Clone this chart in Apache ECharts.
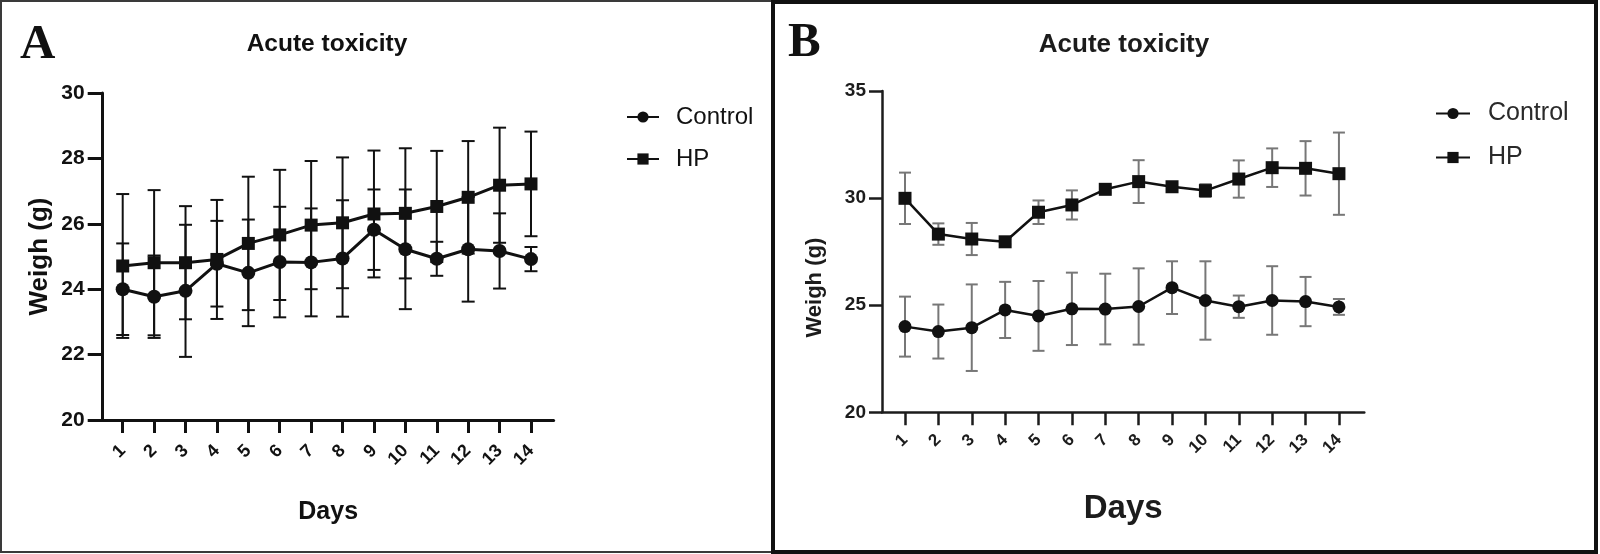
<!DOCTYPE html>
<html lang="en">
<head>
    <meta charset="UTF-8">
    <title>Acute toxicity</title>
    <script src="https://cdn.jsdelivr.net/npm/echarts@6/dist/echarts.min.js"></script>
</head>
<body style="margin: 0; background: #fff">
<div id="chart" style="width: 1600px; height: 554px"></div>

<script>
    // days of observation
    let days = [1, 2, 3, 4, 5, 6, 7, 8, 9, 10, 11, 12, 13, 14];

    // control group, same in both panels (mean, SD)
    let ctrlMean = [24.0, 23.77, 23.95, 24.78, 24.5, 24.83, 24.82, 24.94, 25.82, 25.22, 24.93, 25.22, 25.17, 24.92];
    let ctrlSd = [1.40, 1.26, 2.02, 1.31, 1.63, 1.69, 1.65, 1.78, 1.23, 1.83, 0.52, 1.60, 1.15, 0.37];

    // HP group, panel A
    let hpMeanA = [24.71, 24.81, 24.81, 24.91, 25.40, 25.66, 25.96, 26.03, 26.30, 26.32, 26.53, 26.81, 27.18, 27.22];
    let hpSdA = [2.20, 2.22, 1.73, 1.82, 2.04, 1.99, 1.96, 2.0, 1.94, 1.99, 1.70, 1.72, 1.76, 1.60];

    // HP group, panel B
    let hpMeanB = [29.99, 28.32, 28.09, 27.96, 29.34, 29.68, 30.41, 30.77, 30.53, 30.35, 30.89, 31.42, 31.39, 31.14];
    let hpSdB = [1.20, 0.50, 0.75, 0.12, 0.55, 0.68, 0.15, 1.0, 0.15, 0.30, 0.87, 0.90, 1.27, 1.92];

    // y ticks: min, max, step
    let yTicksA = [20, 30, 2];
    let yTicksB = [20, 35, 5];

    let font = '"Liberation Sans", Arial, sans-serif';

    function pts(mean) {
        return days.map(function (d, i) { return [d, mean[i]]; });
    }
    function bars(mean, sd) {
        return days.map(function (d, i) { return [d, mean[i] - sd[i], mean[i] + sd[i]]; });
    }
    function errRender(capW, color, width) {
        return function (params, api) {
            let x = api.value(0);
            let p1 = api.coord([x, api.value(1)]);
            let p2 = api.coord([x, api.value(2)]);
            let h = capW / 2;
            let st = {stroke: color, lineWidth: width};
            return {
                type: 'group',
                children: [
                    {type: 'line', shape: {x1: p1[0], y1: p1[1], x2: p2[0], y2: p2[1]}, style: st},
                    {type: 'line', shape: {x1: p1[0] - h, y1: p1[1], x2: p1[0] + h, y2: p1[1]}, style: st},
                    {type: 'line', shape: {x1: p2[0] - h, y1: p2[1], x2: p2[0] + h, y2: p2[1]}, style: st}
                ]
            };
        };
    }

    let chart = echarts.init(document.getElementById('chart'));

    let option = {
        backgroundColor: '#fff',
        animation: false,
        title: [
            {text: 'Acute toxicity', left: 322, top: 27, textAlign: 'center',
                textStyle: {fontFamily: font, fontWeight: 'bold', fontSize: 24.5, color: '#111'}},
            {text: 'Acute toxicity', left: 1119, top: 27, textAlign: 'center',
                textStyle: {fontFamily: font, fontWeight: 'bold', fontSize: 26, color: '#1c1c1c'}}
        ],
        legend: [
            {data: ['Control', 'HP'], orient: 'vertical', left: 621, top: 100, itemWidth: 32, itemHeight: 14,
                itemGap: 18, selectedMode: false,
                textStyle: {fontFamily: font, fontSize: 24, color: '#111', padding: [0, 0, 0, 12]}},
            {data: ['Control', 'HP'], orient: 'vertical', left: 1430, top: 96, itemWidth: 34, itemHeight: 14,
                itemGap: 19, selectedMode: false,
                textStyle: {fontFamily: font, fontSize: 25, color: '#2a2a2a', padding: [0, 0, 0, 13]}}
        ],
        grid: [
            {left: 102.7, top: 93, right: 1046.4, bottom: 134},
            {left: 882, top: 91, right: 235.7, bottom: 141.7}
        ],
        xAxis: [
            {type: 'value', gridIndex: 0, min: 0.363, max: 14.72,
                name: 'Days', nameLocation: 'middle', nameGap: 80,
                nameTextStyle: {fontFamily: font, fontWeight: 'bold', fontSize: 25, color: '#111'},
                axisLine: {onZero: false, lineStyle: {color: '#111', width: 3}},
                axisTick: {customValues: days, length: 13, lineStyle: {color: '#111', width: 3}},
                axisLabel: {customValues: days, rotate: 45, margin: 28,
                    fontFamily: font, fontWeight: 'bold', fontSize: 18, color: '#111'},
                splitLine: {show: false}},
            {type: 'value', gridIndex: 1, min: 0.311, max: 14.76,
                name: 'Days', nameLocation: 'middle', nameGap: 80,
                nameTextStyle: {fontFamily: font, fontWeight: 'bold', fontSize: 33, color: '#1c1c1c'},
                axisLine: {onZero: false, lineStyle: {color: '#1c1c1c', width: 2.5}},
                axisTick: {customValues: days, length: 13, lineStyle: {color: '#1c1c1c', width: 2.5}},
                axisLabel: {customValues: days, rotate: 45, margin: 25,
                    fontFamily: font, fontWeight: 'bold', fontSize: 17, color: '#1c1c1c'},
                splitLine: {show: false}}
        ],
        yAxis: [
            {type: 'value', gridIndex: 0, min: yTicksA[0], max: yTicksA[1], interval: yTicksA[2],
                name: 'Weigh (g)', nameLocation: 'middle', nameGap: 50,
                nameTextStyle: {fontFamily: font, fontWeight: 'bold', fontSize: 26, color: '#111'},
                axisLine: {show: true, onZero: false, lineStyle: {color: '#111', width: 3}},
                axisTick: {show: true, length: 15, lineStyle: {color: '#111', width: 3}},
                axisLabel: {margin: 18, fontFamily: font, fontWeight: 'bold', fontSize: 21, color: '#111'},
                splitLine: {show: false}},
            {type: 'value', gridIndex: 1, min: yTicksB[0], max: yTicksB[1], interval: yTicksB[2],
                name: 'Weigh (g)', nameLocation: 'middle', nameGap: 56,
                nameTextStyle: {fontFamily: font, fontWeight: 'bold', fontSize: 22, color: '#1c1c1c',
                    padding: [0, 72, 0, 0]},
                axisLine: {show: true, onZero: false, lineStyle: {color: '#1c1c1c', width: 2.5}},
                axisTick: {show: true, length: 13, lineStyle: {color: '#1c1c1c', width: 2.5}},
                axisLabel: {margin: 16, fontFamily: font, fontWeight: 'bold', fontSize: 19, color: '#1c1c1c'},
                splitLine: {show: false}}
        ],
        graphic: [
            {type: 'rect', shape: {x: 1, y: 1, width: 772, height: 551},
                style: {fill: 'none', stroke: '#3a3a3a', lineWidth: 2}},
            {type: 'rect', shape: {x: 773, y: 2, width: 823, height: 550},
                style: {fill: 'none', stroke: '#111', lineWidth: 4}},
            {type: 'text', left: 20, top: 21,
                style: {text: 'A', font: 'bold 49px "Liberation Serif", serif', fill: '#111'}},
            {type: 'text', left: 788, top: 19,
                style: {text: 'B', font: 'bold 49px "Liberation Serif", serif', fill: '#111'}}
        ],
        series: [
            // panel A
            {name: 'Control SD A', type: 'custom', xAxisIndex: 0, yAxisIndex: 0, z: 1,
                renderItem: errRender(13, '#111', 2), data: bars(ctrlMean, ctrlSd)},
            {name: 'HP SD A', type: 'custom', xAxisIndex: 0, yAxisIndex: 0, z: 1,
                renderItem: errRender(13, '#111', 2), data: bars(hpMeanA, hpSdA)},
            {name: 'Control', type: 'line', xAxisIndex: 0, yAxisIndex: 0, z: 3,
                symbol: 'circle', symbolSize: 14,
                lineStyle: {color: '#111', width: 3}, itemStyle: {color: '#111'},
                data: pts(ctrlMean)},
            {name: 'HP', type: 'line', xAxisIndex: 0, yAxisIndex: 0, z: 3,
                symbol: 'rect', symbolSize: 13,
                lineStyle: {color: '#111', width: 3}, itemStyle: {color: '#111'},
                data: pts(hpMeanA)},
            // panel B
            {name: 'Control SD B', type: 'custom', xAxisIndex: 1, yAxisIndex: 1, z: 1,
                renderItem: errRender(12, '#777', 2), data: bars(ctrlMean, ctrlSd)},
            {name: 'HP SD B', type: 'custom', xAxisIndex: 1, yAxisIndex: 1, z: 1,
                renderItem: errRender(12, '#777', 2), data: bars(hpMeanB, hpSdB)},
            {name: 'Control', type: 'line', xAxisIndex: 1, yAxisIndex: 1, z: 3,
                symbol: 'circle', symbolSize: 13,
                lineStyle: {color: '#111', width: 2.5}, itemStyle: {color: '#111'},
                data: pts(ctrlMean)},
            {name: 'HP', type: 'line', xAxisIndex: 1, yAxisIndex: 1, z: 3,
                symbol: 'rect', symbolSize: 13,
                lineStyle: {color: '#111', width: 2.5}, itemStyle: {color: '#111'},
                data: pts(hpMeanB)}
        ]
    };
    chart.setOption(option);
</script>
</body>
</html>
